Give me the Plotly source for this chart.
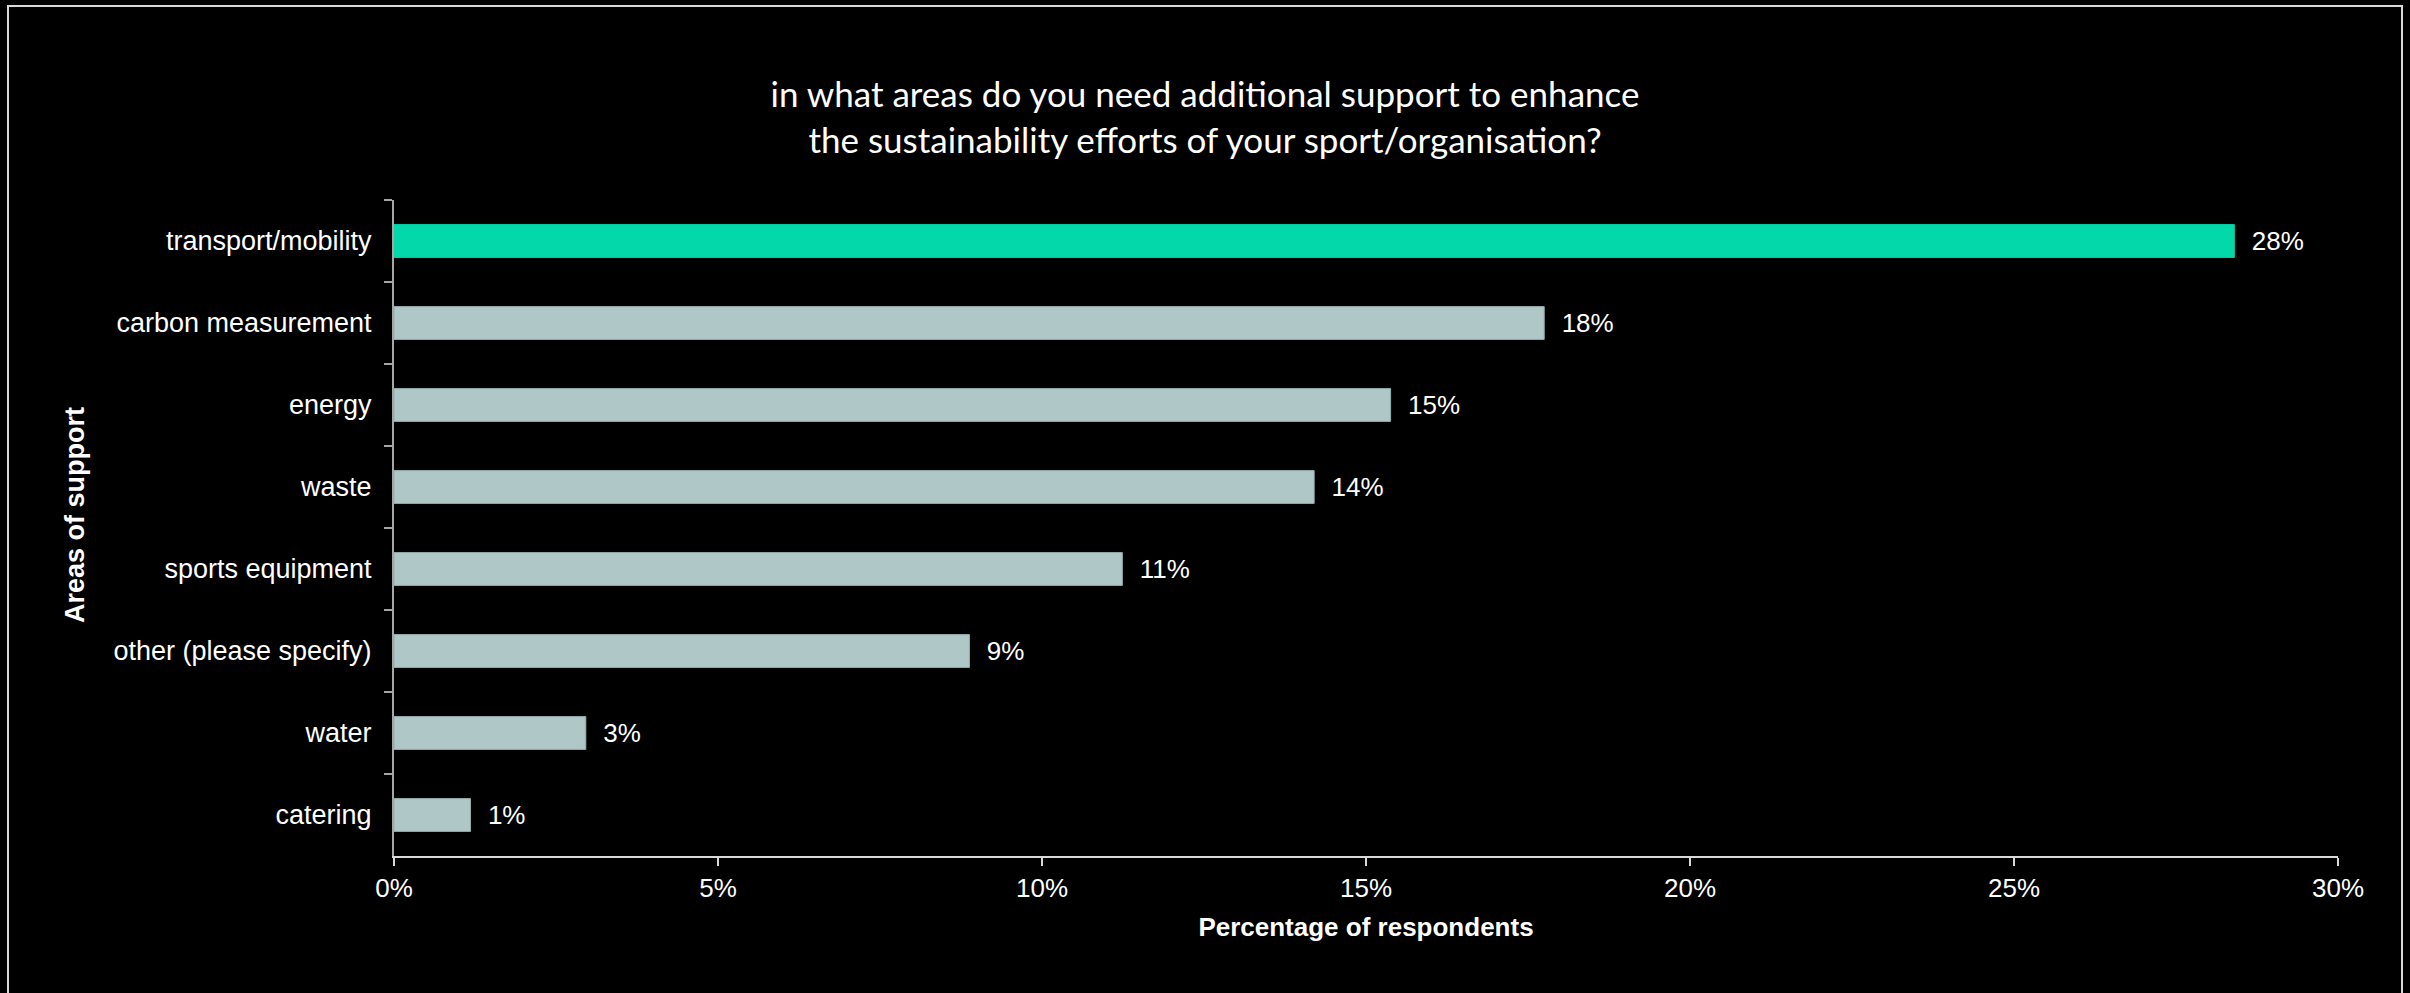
import plotly.graph_objects as go

# Survey answers, listed top to bottom
categories = [
    "transport/mobility",
    "carbon measurement",
    "energy",
    "waste",
    "sports equipment",
    "other (please specify)",
    "water",
    "catering",
]
share_pct = [28.40, 17.75, 15.38, 14.20, 11.24, 8.88, 2.96, 1.18]
highlight = "transport/mobility"

x_tick_vals = [0, 5, 10, 15, 20, 25, 30]
x_tick_text = ["0%", "5%", "10%", "15%", "20%", "25%", "30%"]

title_text = ("in what areas do you need additional support to enhance<br>"
              "the sustainability efforts of your sport/organisation?")

# Page and plot-area geometry (pixels)
W, H = 2410, 993
M_L, M_R, M_T, M_B = 394, 72, 200, 137
PLOT_W = W - M_L - M_R
PLOT_H = H - M_T - M_B

ACCENT = "#02D8A9"
MUTED = "#AFC7C7"
MUTED_EDGE = "#93AEAE"
TEXT = "#FFFFFF"
FONT = "Liberation Sans, Arial, sans-serif"


def px_to_paper_x(px):
    return (px - M_L) / PLOT_W


def px_to_paper_y(py):
    return (H - M_B - py) / PLOT_H


bar_colors = [ACCENT if c == highlight else MUTED for c in categories]
edge_colors = [ACCENT if c == highlight else MUTED_EDGE for c in categories]

fig = go.Figure(
    go.Bar(
        x=share_pct,
        y=categories,
        orientation="h",
        marker=dict(color=bar_colors, line=dict(color=edge_colors, width=1)),
        texttemplate="\u00a0\u00a0%{x:.0f}%",
        textposition="outside",
        constraintext="none",
        cliponaxis=False,
        textfont=dict(family=FONT, size=26, color=TEXT),
        hoverinfo="skip",
    )
)

fig.update_layout(
    width=W,
    height=H,
    margin=dict(l=M_L, r=M_R, t=M_T, b=M_B, autoexpand=False),
    paper_bgcolor="#000000",
    plot_bgcolor="#000000",
    bargap=0.6,
    showlegend=False,
    title=dict(
        text=title_text,
        x=0.5,
        xref="container",
        xanchor="center",
        y=1 - 107 / H,
        yref="container",
        yanchor="middle",
        font=dict(family="Lato, Open Sans, sans-serif", size=35, color=TEXT),
    ),
    xaxis=dict(
        range=[0, 30],
        tickvals=x_tick_vals,
        ticktext=x_tick_text,
        ticks="outside",
        ticklen=8,
        tickwidth=2,
        tickcolor="#D9D9D9",
        showline=True,
        linecolor="#D9D9D9",
        linewidth=2,
        showgrid=False,
        zeroline=False,
        tickfont=dict(family=FONT, size=26, color=TEXT),
        title=dict(
            text="<b>Percentage of respondents</b>",
            font=dict(family=FONT, size=26, color=TEXT),
            standoff=16,
        ),
        fixedrange=True,
    ),
    yaxis=dict(
        autorange="reversed",
        ticks="outside",
        tickson="boundaries",
        ticklen=8,
        tickwidth=2,
        tickcolor="#A6A6A6",
        showline=True,
        linecolor="#A6A6A6",
        linewidth=2,
        showgrid=False,
        zeroline=False,
        tickfont=dict(family=FONT, size=27, color=TEXT),
        ticklabelstandoff=15,
        showticklabels=True,
        fixedrange=True,
    ),
    annotations=[
        dict(
            text="<b>Areas of support</b>",
            textangle=-90,
            xref="paper",
            yref="paper",
            x=px_to_paper_x(75),
            y=px_to_paper_y(515),
            xanchor="center",
            yanchor="middle",
            showarrow=False,
            font=dict(family=FONT, size=27, color=TEXT),
        )
    ],
    shapes=[
        dict(
            type="rect",
            xref="paper",
            yref="paper",
            x0=px_to_paper_x(8),
            x1=px_to_paper_x(2402),
            y0=px_to_paper_y(1000),
            y1=px_to_paper_y(6),
            line=dict(color="#D9D9D9", width=2),
            fillcolor="rgba(0,0,0,0)",
            layer="below",
        )
    ],
)

fig.write_html("out.html", config={"displayModeBar": False})
